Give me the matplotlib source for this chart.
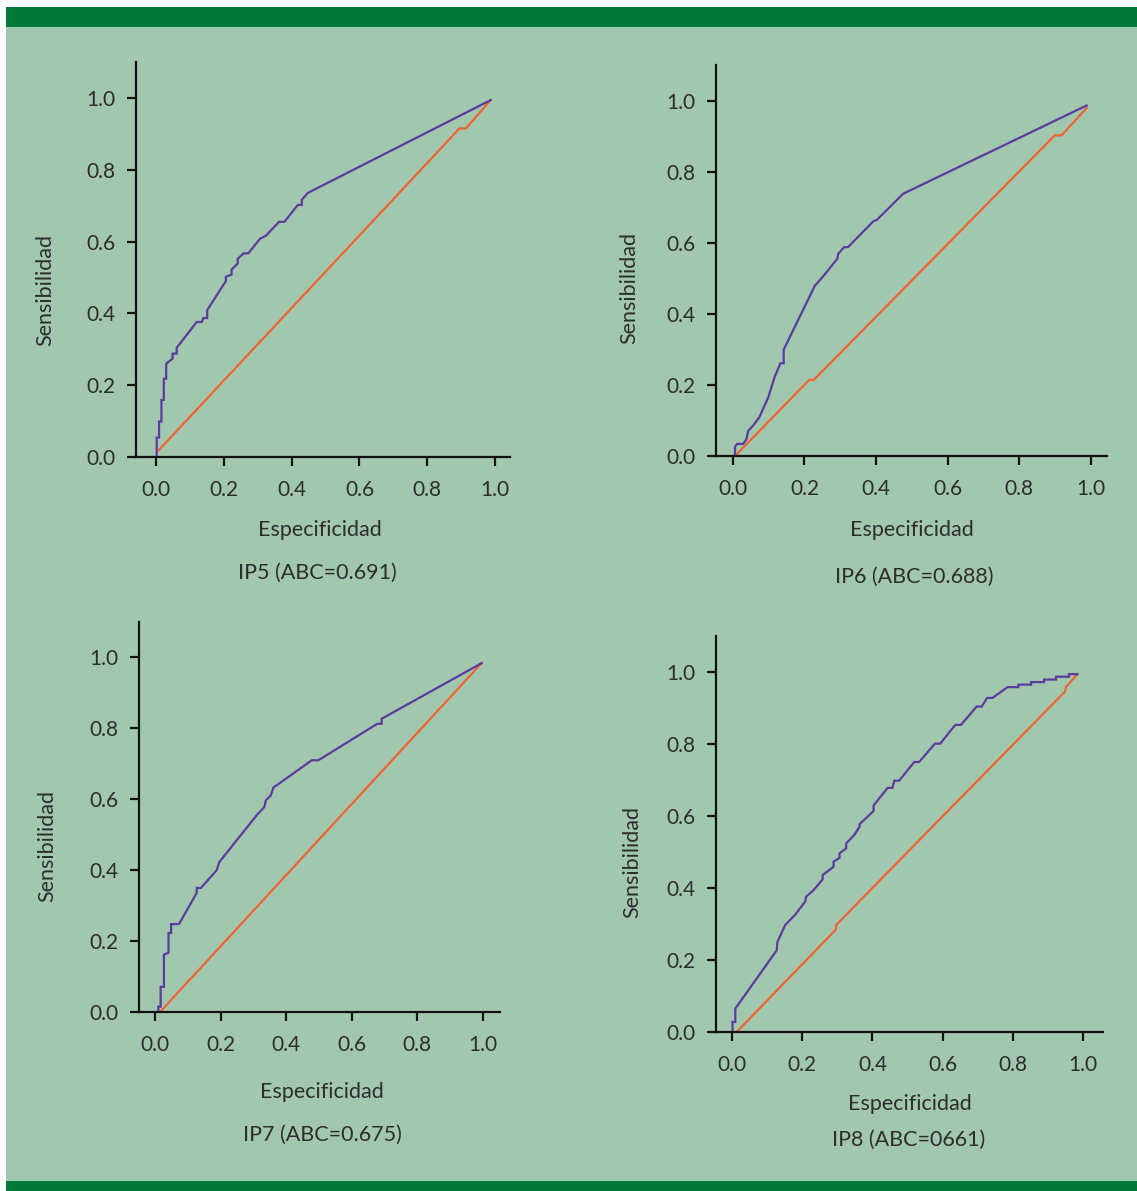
import matplotlib.pyplot as plt
from matplotlib.patches import Rectangle

W, H = 1137, 1191

# ROC curves (x = 1 - especificidad, y = sensibilidad)
ip5_x = [-0.01, 0.002, 0.002, 0.009, 0.009, 0.016, 0.016, 0.023, 0.023, 0.030, 0.030, 0.049,
         0.049, 0.061, 0.061, 0.120, 0.135, 0.140, 0.151, 0.151, 0.206, 0.206, 0.223, 0.223,
         0.241, 0.241, 0.258, 0.272, 0.307, 0.324, 0.363, 0.379, 0.418, 0.430, 0.430, 0.447, 0.987]
ip5_y = [0.0, 0.0, 0.054, 0.054, 0.099, 0.099, 0.159, 0.159, 0.218, 0.218, 0.260, 0.274,
         0.288, 0.288, 0.304, 0.376, 0.376, 0.387, 0.387, 0.409, 0.490, 0.502, 0.508, 0.522,
         0.539, 0.552, 0.567, 0.567, 0.608, 0.616, 0.655, 0.655, 0.702, 0.702, 0.716, 0.735, 0.994]
ip5_ref_x = [0.007, 0.895, 0.914, 0.987]
ip5_ref_y = [0.018, 0.915, 0.915, 0.994]

ip6_x = [0.006, 0.006, 0.012, 0.029, 0.038, 0.043, 0.057, 0.074, 0.099, 0.117, 0.133, 0.142,
         0.142, 0.229, 0.252, 0.292, 0.294, 0.310, 0.322, 0.392, 0.403, 0.476, 0.988]
ip6_y = [0.0, 0.026, 0.034, 0.034, 0.047, 0.071, 0.086, 0.109, 0.165, 0.223, 0.261, 0.261,
         0.299, 0.479, 0.505, 0.555, 0.568, 0.587, 0.588, 0.660, 0.665, 0.738, 0.986]
ip6_ref_x = [0.006, 0.213, 0.226, 0.899, 0.918, 0.988]
ip6_ref_y = [0.0, 0.214, 0.214, 0.902, 0.902, 0.979]

ip7_x = [0.010, 0.010, 0.017, 0.017, 0.027, 0.027, 0.041, 0.041, 0.049, 0.049, 0.073, 0.127,
         0.127, 0.140, 0.188, 0.196, 0.310, 0.333, 0.338, 0.353, 0.361, 0.478, 0.498, 0.678,
         0.691, 0.691, 0.996]
ip7_y = [0.001, 0.015, 0.015, 0.071, 0.071, 0.162, 0.167, 0.223, 0.223, 0.248, 0.248, 0.336,
         0.350, 0.350, 0.400, 0.423, 0.555, 0.578, 0.597, 0.611, 0.633, 0.710, 0.710, 0.813,
         0.813, 0.827, 0.984]
ip7_ref_x = [0.015, 0.996]
ip7_ref_y = [0.0, 0.984]

ip8_x = [0.001, 0.001, 0.009, 0.009, 0.127, 0.129, 0.151, 0.179, 0.208, 0.211, 0.232, 0.258,
         0.258, 0.289, 0.289, 0.306, 0.306, 0.325, 0.325, 0.348, 0.363, 0.363, 0.403, 0.403,
         0.443, 0.457, 0.462, 0.476, 0.519, 0.533, 0.578, 0.593, 0.636, 0.652, 0.697, 0.711,
         0.727, 0.742, 0.785, 0.816, 0.816, 0.852, 0.852, 0.889, 0.889, 0.923, 0.923, 0.960,
         0.960, 0.984]
ip8_y = [0.0, 0.028, 0.028, 0.065, 0.227, 0.250, 0.297, 0.325, 0.362, 0.376, 0.394, 0.424,
         0.436, 0.459, 0.473, 0.484, 0.496, 0.510, 0.524, 0.547, 0.570, 0.577, 0.614, 0.629,
         0.678, 0.678, 0.698, 0.698, 0.750, 0.750, 0.801, 0.801, 0.853, 0.853, 0.904, 0.904,
         0.928, 0.928, 0.958, 0.958, 0.965, 0.965, 0.972, 0.972, 0.979, 0.979, 0.987, 0.987,
         0.994, 0.994]
ip8_ref_x = [0.013, 0.296, 0.296, 0.949, 0.951, 0.984]
ip8_ref_y = [0.0, 0.285, 0.297, 0.946, 0.958, 0.994]

captions = ['IP5 (ABC=0.691)', 'IP6 (ABC=0.688)', 'IP7 (ABC=0.675)', 'IP8 (ABC=0661)']
ticks = [0.0, 0.2, 0.4, 0.6, 0.8, 1.0]
tick_labels = ['0.0', '0.2', '0.4', '0.6', '0.8', '1.0']

BG = '#a2c7af'
BAR = '#007a3b'
PURPLE = '#5b3c9e'
ORANGE = '#ef6430'
TXT = '#2d2d2d'

plt.rcParams['font.family'] = ['Lato', 'DejaVu Sans']


def px(x, y):
    """ pixel (from top-left) -> figure fraction """
    return x / W, 1 - y / H


# axes box in pixels (left, right, top, bottom), xlim, text centres
layout = [
    dict(box=(136, 510, 62, 457), xlim=(-0.059, 1.044), ylab=(45, 290), xlab=(320, 530), cap=(317, 573)),
    dict(box=(716, 1107, 65, 456), xlim=(-0.047, 1.045), ylab=(629, 288), xlab=(912, 530), cap=(914, 577)),
    dict(box=(139, 500, 622, 1012), xlim=(-0.049, 1.052), ylab=(47, 846), xlab=(322, 1092), cap=(322, 1135)),
    dict(box=(716, 1103, 636, 1032), xlim=(-0.046, 1.057), ylab=(632, 862), xlab=(910, 1104), cap=(909, 1140)),
]
curves = [(ip5_x, ip5_y, ip5_ref_x, ip5_ref_y),
          (ip6_x, ip6_y, ip6_ref_x, ip6_ref_y),
          (ip7_x, ip7_y, ip7_ref_x, ip7_ref_y),
          (ip8_x, ip8_y, ip8_ref_x, ip8_ref_y)]

fig = plt.figure(figsize=(W / 100, H / 100), dpi=100, facecolor='white')

# green panel with dark bars top and bottom
fig.patches.append(Rectangle(px(6, H), (W - 6) / W, (H - 7) / H, transform=fig.transFigure,
                             facecolor=BG, edgecolor='none', zorder=-10))
fig.patches.append(Rectangle(px(6, 27), (W - 6) / W, 20 / H, transform=fig.transFigure,
                             facecolor=BAR, edgecolor='none', zorder=-9))
fig.patches.append(Rectangle(px(6, H), (W - 6) / W, 10 / H, transform=fig.transFigure,
                             facecolor=BAR, edgecolor='none', zorder=-9))

for lay, (cx, cy, rx, ry), cap in zip(layout, curves, captions):
    l, r, t, b = lay['box']
    x0, y0 = px(l, b)
    ax = fig.add_axes([x0, y0, (r - l) / W, (b - t) / H])
    ax.set_facecolor('none')

    ax.plot(rx, ry, color=ORANGE, lw=1.6, solid_joinstyle='miter')
    ax.plot(cx, cy, color=PURPLE, lw=1.6, solid_joinstyle='miter')

    ax.set_xlim(*lay['xlim'])
    ax.set_ylim(0, 1.10)
    ax.set_xticks(ticks)
    ax.set_xticklabels(tick_labels)
    ax.set_yticks(ticks)
    ax.set_yticklabels(tick_labels)
    for side in ['top', 'right']:
        ax.spines[side].set_visible(False)
    for side in ['left', 'bottom']:
        ax.spines[side].set_linewidth(1.6)
        ax.spines[side].set_color('#111111')
    ax.tick_params(axis='both', direction='out', length=6.5, width=1.6, color='#111111',
                   labelsize=15, labelcolor=TXT)
    ax.tick_params(axis='x', pad=10)
    ax.tick_params(axis='y', pad=8)

    ax.set_xlabel('Especificidad', fontsize=15.5, color=TXT)
    ax.xaxis.set_label_coords(*px(*lay['xlab']), transform=fig.transFigure)
    ax.xaxis.label.set_va('center')
    ax.set_ylabel('Sensibilidad', fontsize=15.5, color=TXT)
    ax.yaxis.set_label_coords(*px(*lay['ylab']), transform=fig.transFigure)
    ax.yaxis.label.set_va('center')

    fx, fy = px(*lay['cap'])
    fig.text(fx, fy, cap, fontsize=15.5, color=TXT, ha='center', va='center')

fig.savefig('out.png', dpi=100, facecolor='white')
